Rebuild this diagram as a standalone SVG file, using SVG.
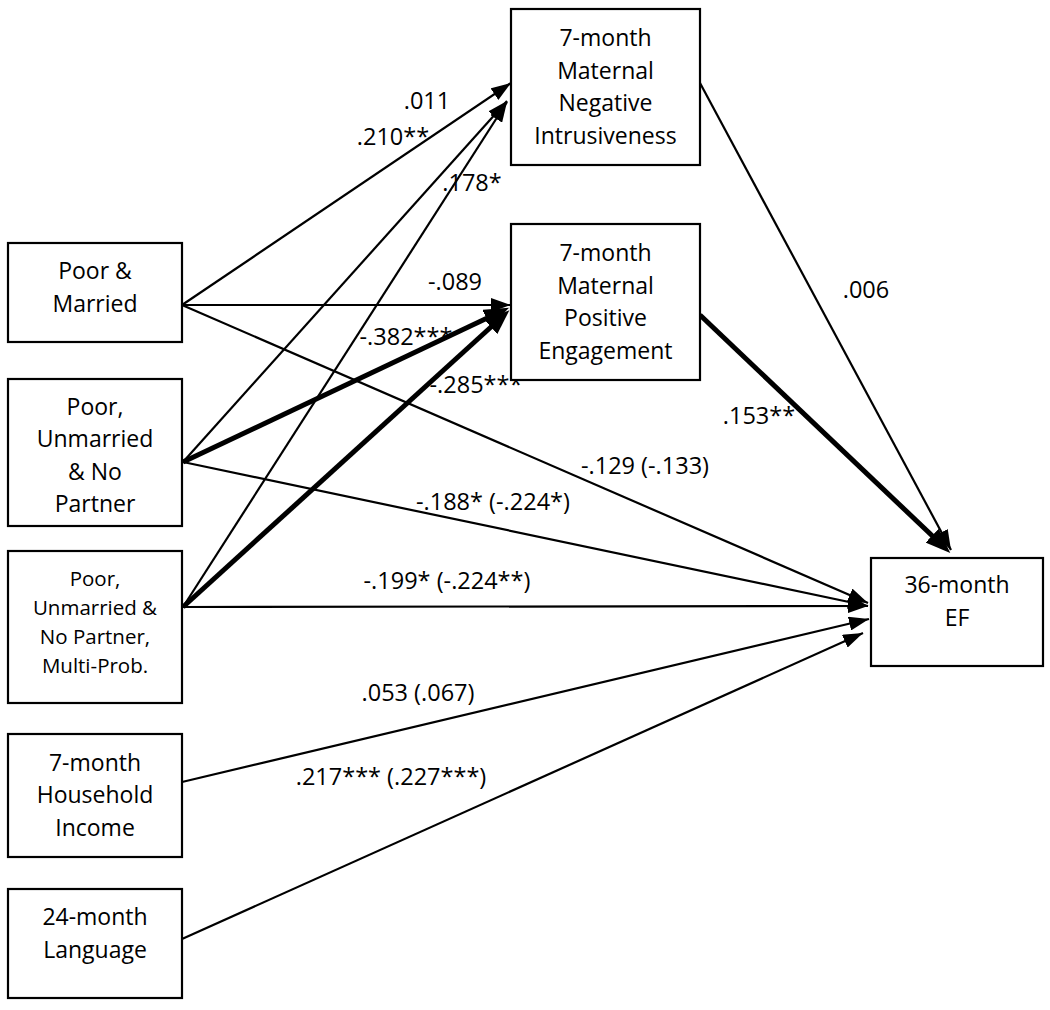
<svg xmlns="http://www.w3.org/2000/svg" width="1050" height="1010" viewBox="0 0 1050 1010">
<style>
.box{fill:#fff;stroke:#000;stroke-width:2.2}
.t{font-family:"Open Sans","Noto Sans","DejaVu Sans",sans-serif;font-size:23px;fill:#000;text-anchor:middle}
.ts{font-size:20.5px}
.lbl{font-family:"Open Sans","Noto Sans","DejaVu Sans",sans-serif;font-size:23.5px;fill:#000;text-anchor:middle}
.thin{fill:none;stroke:#000;stroke-width:2.2;marker-end:url(#ah)}
.thick{fill:none;stroke:#000;stroke-width:5;marker-end:url(#ahb)}
</style>
<defs>
<marker id="ah" markerUnits="userSpaceOnUse" markerWidth="20" markerHeight="14" refX="20" refY="7" orient="auto" viewBox="0 0 20 14">
<path d="M0,0 L20,7 L0,14 z" fill="#000"/>
</marker>
<marker id="ahb" markerUnits="userSpaceOnUse" markerWidth="25" markerHeight="19" refX="15" refY="9.5" orient="auto" viewBox="0 0 25 19">
<path d="M0,0 L25,9.5 L0,19 z" fill="#000"/>
</marker>
</defs>
<rect width="1050" height="1010" fill="#fff"/>
<g id="connectors">
<path class="thin" d="M182,305 L511,83"/>
<path class="thin" d="M182,305 L511,305"/>
<path class="thin" d="M182,305 L868,603"/>
<path class="thin" d="M183,462 L507,101"/>
<path class="thin" d="M183,462 L868,606"/>
<path class="thin" d="M183,607 L507,102"/>
<path class="thin" d="M183,607 L868,606"/>
<path class="thin" d="M182,782 L869,619"/>
<path class="thin" d="M182,939 L863,633"/>
<path class="thin" d="M700,83 L951,550"/>
<path class="thick" d="M183,462 L500,312"/>
<path class="thick" d="M183,607 L502,317"/>
<path class="thick" d="M700,315 L943,546"/>
</g>
<g id="labels">
<text class="lbl" x="427" y="109">.011</text>
<text class="lbl" x="393" y="145">.210**</text>
<text class="lbl" x="472" y="191">.178*</text>
<text class="lbl" x="455" y="290">-.089</text>
<text class="lbl" x="406" y="345">-.382***</text>
<text class="lbl" x="476" y="393">-.285***</text>
<text class="lbl" x="645" y="474">-.129 (-.133)</text>
<text class="lbl" x="493" y="510">-.188* (-.224*)</text>
<text class="lbl" x="447" y="589">-.199* (-.224**)</text>
<text class="lbl" x="418" y="701">.053 (.067)</text>
<text class="lbl" x="391" y="785">.217*** (.227***)</text>
<text class="lbl" x="866" y="298">.006</text>
<text class="lbl" x="759" y="424">.153**</text>
</g>
<g id="node-intrusiveness">
<rect class="box" x="511" y="9" width="189" height="156"/>
<text class="t" x="605.5" y="46">7-month</text>
<text class="t" x="605.5" y="79">Maternal</text>
<text class="t" x="605.5" y="111">Negative</text>
<text class="t" x="605.5" y="144">Intrusiveness</text>
</g>
<g id="node-engagement">
<rect class="box" x="511" y="224" width="189" height="156"/>
<text class="t" x="605.5" y="261">7-month</text>
<text class="t" x="605.5" y="294">Maternal</text>
<text class="t" x="605.5" y="326">Positive</text>
<text class="t" x="605.5" y="359">Engagement</text>
</g>
<g id="node-ef">
<rect class="box" x="871" y="558" width="172" height="108"/>
<text class="t" x="957" y="593">36-month</text>
<text class="t" x="957" y="626">EF</text>
</g>
<g id="node-poor-married">
<rect class="box" x="8" y="243" width="174" height="99"/>
<text class="t" x="95" y="279">Poor &amp;</text>
<text class="t" x="95" y="312">Married</text>
</g>
<g id="node-poor-unmarried">
<rect class="box" x="8" y="379" width="174" height="147"/>
<text class="t" x="95" y="415">Poor,</text>
<text class="t" x="95" y="447">Unmarried</text>
<text class="t" x="95" y="480">&amp; No</text>
<text class="t" x="95" y="512">Partner</text>
</g>
<g id="node-multi-prob">
<rect class="box" x="8" y="551" width="174" height="152"/>
<text class="t ts" x="95" y="586">Poor,</text>
<text class="t ts" x="95" y="615">Unmarried &amp;</text>
<text class="t ts" x="95" y="644">No Partner,</text>
<text class="t ts" x="95" y="673">Multi-Prob.</text>
</g>
<g id="node-income">
<rect class="box" x="8" y="734" width="174" height="123"/>
<text class="t" x="95" y="771">7-month</text>
<text class="t" x="95" y="803">Household</text>
<text class="t" x="95" y="836">Income</text>
</g>
<g id="node-language">
<rect class="box" x="8" y="889" width="174" height="109"/>
<text class="t" x="95" y="925">24-month</text>
<text class="t" x="95" y="958">Language</text>
</g>
</svg>
